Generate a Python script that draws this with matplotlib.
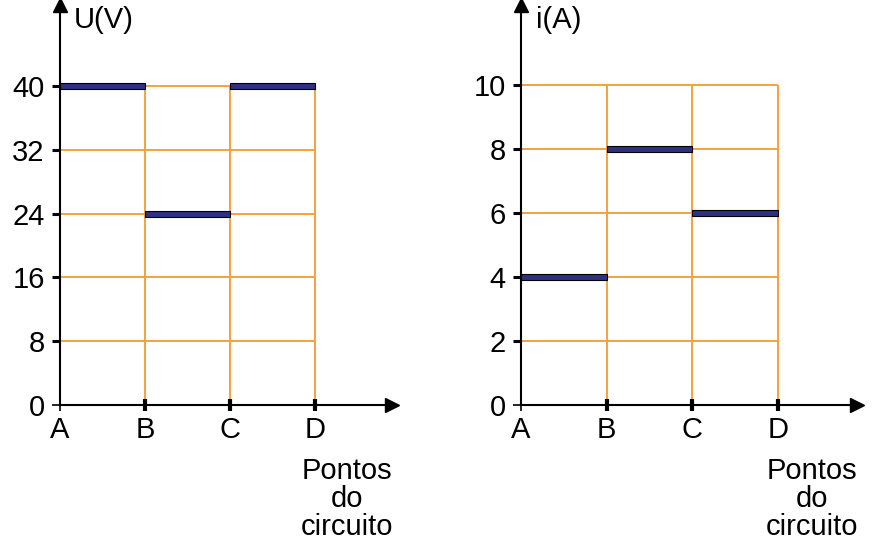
import matplotlib
matplotlib.use("Agg")
import matplotlib.pyplot as plt

plt.rcParams['font.family'] = ['Liberation Sans', 'DejaVu Sans']

# ---- data ----
points = ["A", "B", "C", "D"]
seg_start = [0, 1, 2]
u_values = [40, 24, 40]          # U(V) between consecutive points
u_ticks = [0, 8, 16, 24, 32, 40]
i_values = [4, 8, 6]             # i(A) between consecutive points
i_ticks = [0, 2, 4, 6, 8, 10]

ORANGE = "#F5A23A"
NAVY = "#2E3180"
FS = 21

W, H = 873, 545
fig = plt.figure(figsize=(W / 100, H / 100), dpi=100)


def make_panel(x0_px, x_end_px, unit_px, y_per_px, values, ticks, ylabel, label_px, bar_px, xlabel_cx):
    y0_px, ytop_px = 405, 5
    ax = fig.add_axes([x0_px / W, (H - y0_px) / H, (x_end_px - x0_px) / W, (y0_px - ytop_px) / H])
    ax.set_xlim(0, (x_end_px - x0_px) / unit_px)
    ax.set_ylim(0, (y0_px - ytop_px) / y_per_px)
    for s in ("top", "right"):
        ax.spines[s].set_visible(False)
    for s in ("left", "bottom"):
        ax.spines[s].set_linewidth(1.5)
        ax.spines[s].set_zorder(5)
    # arrowheads
    ax.plot(1, 0, ">", color="black", markersize=10, transform=ax.transAxes, clip_on=False, zorder=6)
    ax.plot(0, 1, "^", color="black", markersize=10, transform=ax.transAxes, clip_on=False, zorder=6)

    top = ticks[-1]
    # grid
    ax.hlines(ticks[1:], 0, len(points) - 1, color=ORANGE, lw=1.4, zorder=1)
    ax.vlines(range(1, len(points)), 0, top, color=ORANGE, lw=1.4, zorder=1)

    # bars
    ax.barh(values, [1] * len(values), left=seg_start, height=bar_px / y_per_px,
            color=NAVY, edgecolor="black", linewidth=0.8, zorder=3)

    ax.set_xticks(range(len(points)))
    ax.set_xticklabels(points, fontsize=FS)
    ax.set_yticks(ticks)
    ax.set_yticklabels([str(t) for t in ticks], fontsize=FS)
    ax.tick_params(axis="x", direction="inout", length=8, width=3, pad=4)
    ax.tick_params(axis="y", direction="out", length=6, width=2.2, pad=5)
    ax.xaxis.get_major_ticks()[0].tick1line.set_markeredgewidth(1.2)
    ax.yaxis.get_major_ticks()[0].tick1line.set_markeredgewidth(1.2)

    ax.text((label_px - x0_px) / (x_end_px - x0_px), (y0_px - 20) / (y0_px - ytop_px), ylabel,
            transform=ax.transAxes, fontsize=FS, ha="left", va="center")
    ax.text((xlabel_cx - x0_px) / (x_end_px - x0_px), (y0_px - 457) / (y0_px - ytop_px),
            "Pontos\ndo\ncircuito", transform=ax.transAxes, fontsize=FS,
            ha="center", va="top", multialignment="center", linespacing=1.0)
    ax.patch.set_alpha(0)
    return ax


make_panel(60, 392, 85.0, 7.975, u_values, u_ticks, "U(V)", 74, 6, 347)
make_panel(521, 857, 85.67, 32.0, i_values, i_ticks, "i(A)", 536, 6, 812)

fig.savefig("out.png", dpi=100)
